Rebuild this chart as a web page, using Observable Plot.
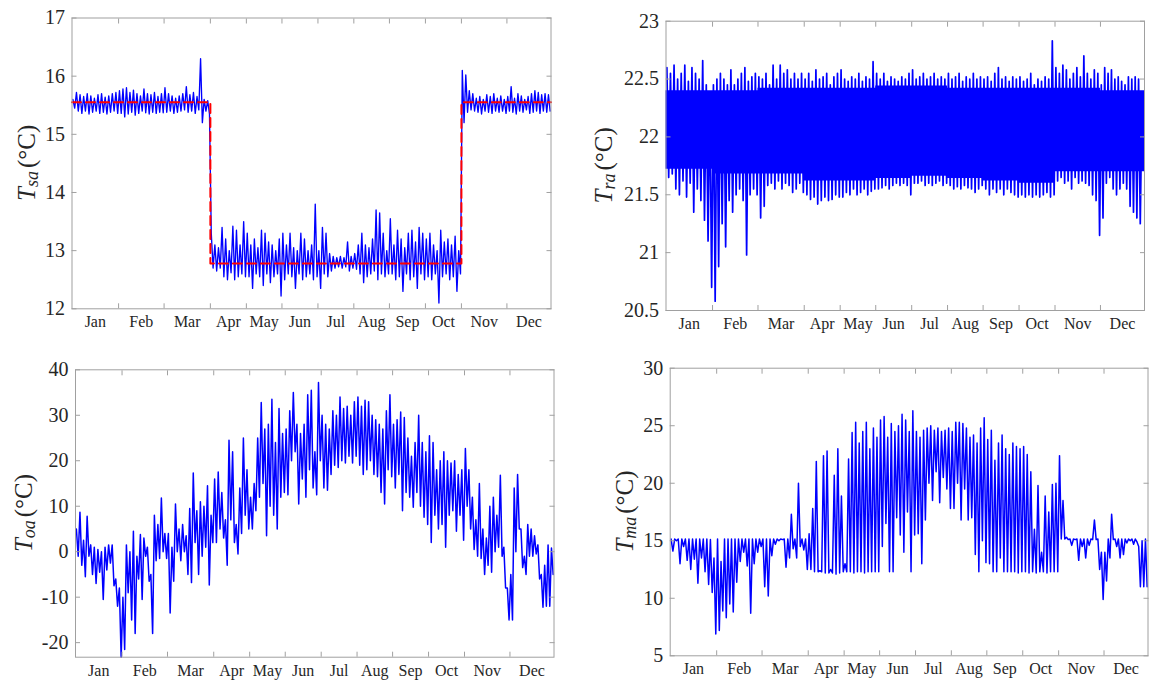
<!DOCTYPE html>
<html><head><meta charset="utf-8">
<script src="https://cdn.jsdelivr.net/npm/d3@7"></script>
<script src="https://cdn.jsdelivr.net/npm/@observablehq/plot@0.6"></script>
<style>
body{margin:0;background:#fff;}
#root{position:relative;width:1150px;height:681px;overflow:hidden;background:#fff;}
#root svg{position:absolute;}
</style></head><body><div id="root"></div>
<script>
// ---------- shared x axis (sample index; month widths) ----------
const monthNames = ["Jan","Feb","Mar","Apr","May","Jun","Jul","Aug","Sep","Oct","Nov","Dec"];
const monthSamples = [466, 455, 463, 360, 356, 360, 359, 356, 360, 360, 455, 441];
const binsPerMonth = [13, 13, 13, 10, 10, 10, 10, 10, 10, 10, 13, 13];

// ---------- T_sa : per-bin max / min ----------
const tsaHi = [
 15.6,15.72,15.68,15.65,15.7,15.66,15.62,15.68,15.7,15.64,15.66,15.7,15.72,
 15.75,15.78,15.8,15.72,15.76,15.7,15.66,15.78,15.7,15.68,15.72,15.65,15.7,
 15.8,15.7,15.66,15.62,15.66,15.7,15.82,15.68,15.72,15.65,16.3,15.6,15.58,
 13.3,13.1,13.05,13.4,13.2,13.0,13.42,13.35,13.1,13.5,
 13.3,13.1,13.2,13.05,13.35,13.3,13.15,13.1,13.0,13.2,
 13.3,13.1,13.3,13.05,13.0,13.3,13.2,13.0,13.1,13.8,
 13.0,13.4,13.3,12.95,12.9,12.88,12.9,12.88,13.15,12.9,
 12.95,13.1,13.3,13.1,13.05,13.2,13.7,13.65,13.3,13.0,
 13.55,13.1,13.35,13.2,13.05,13.3,13.35,13.15,13.4,13.3,
 13.2,13.3,13.1,13.0,13.35,13.15,13.2,13.1,13.25,13.0,
 16.1,16.02,15.75,15.7,15.62,15.65,15.6,15.68,15.65,15.7,15.62,15.66,15.6,
 15.65,15.82,15.62,15.7,15.66,15.6,15.65,15.7,15.75,15.72,15.68,15.7,15.68];
const tsaLo = [
 15.45,15.4,15.36,15.4,15.35,15.38,15.4,15.36,15.38,15.35,15.38,15.4,15.36,
 15.36,15.3,15.35,15.38,15.33,15.36,15.4,15.37,15.35,15.38,15.36,15.38,15.37,
 15.38,15.4,15.36,15.38,15.4,15.42,15.38,15.4,15.36,15.42,15.2,15.4,15.35,
 12.7,12.65,12.7,12.55,12.5,12.62,12.5,12.55,12.6,12.55,
 12.55,12.35,12.6,12.55,12.4,12.6,12.45,12.55,12.6,12.22,
 12.5,12.6,12.55,12.35,12.6,12.5,12.55,12.6,12.5,12.55,
 12.35,12.6,12.55,12.65,12.7,12.72,12.7,12.72,12.65,12.7,
 12.68,12.6,12.45,12.55,12.6,12.65,12.5,12.6,12.55,12.6,
 12.6,12.5,12.55,12.3,12.6,12.5,12.55,12.35,12.6,12.5,
 12.55,12.5,12.6,12.1,12.55,12.6,12.5,12.55,12.3,12.6,
 15.2,15.38,15.42,15.4,15.38,15.35,15.4,15.38,15.36,15.4,15.38,15.4,15.36,
 15.4,15.38,15.35,15.4,15.38,15.42,15.36,15.38,15.4,15.36,15.4,15.38,15.4];
const tsaSetpoint = [15.55,15.55,15.55,12.78,12.78,12.78,12.78,12.78,12.78,12.78,15.55,15.55];

// ---------- T_ra ----------
const traHi = [
 22.6,22.55,22.62,22.5,22.55,22.62,22.48,22.6,22.55,22.5,22.66,22.45,22.35,
 22.45,22.5,22.55,22.5,22.45,22.58,22.45,22.5,22.55,22.6,22.48,22.52,22.55,
 22.52,22.5,22.55,22.45,22.62,22.5,22.62,22.55,22.58,22.5,22.55,22.5,22.55,
 22.5,22.55,22.48,22.58,22.5,22.52,22.55,22.45,22.52,22.55,
 22.58,22.5,22.48,22.52,22.5,22.55,22.48,22.52,22.5,22.65,
 22.55,22.5,22.55,22.48,22.52,22.5,22.48,22.52,22.5,22.55,
 22.58,22.5,22.52,22.55,22.5,22.52,22.55,22.5,22.52,22.5,
 22.55,22.5,22.52,22.55,22.48,22.52,22.5,22.55,22.5,22.52,
 22.5,22.52,22.48,22.55,22.6,22.5,22.52,22.48,22.52,22.5,
 22.52,22.48,22.5,22.55,22.45,22.5,22.48,22.52,22.5,22.83,
 22.6,22.55,22.62,22.58,22.5,22.55,22.6,22.52,22.7,22.55,22.5,22.58,22.55,
 22.45,22.6,22.55,22.58,22.5,22.52,22.48,22.45,22.52,22.5,22.52,22.5,22.3];
const traLo = [
 21.65,21.68,21.55,21.5,21.62,21.48,21.6,21.35,21.55,21.45,21.28,21.1,20.7,
 20.58,20.88,21.25,21.05,21.45,21.35,21.5,21.55,21.45,20.98,21.5,21.55,21.5,
 21.3,21.4,21.58,21.6,21.55,21.62,21.55,21.6,21.58,21.52,21.55,21.6,21.52,
 21.5,21.46,21.48,21.42,21.45,21.48,21.45,21.46,21.5,21.48,
 21.48,21.52,21.5,21.55,21.5,21.52,21.55,21.5,21.53,21.55,
 21.55,21.56,21.58,21.55,21.58,21.6,21.58,21.6,21.58,21.5,
 21.6,21.6,21.62,21.58,21.6,21.58,21.6,21.62,21.58,21.6,
 21.58,21.55,21.57,21.55,21.58,21.56,21.55,21.52,21.55,21.58,
 21.55,21.5,21.55,21.52,21.55,21.5,21.55,21.52,21.5,21.48,
 21.5,21.48,21.5,21.48,21.5,21.48,21.5,21.52,21.48,21.5,
 21.62,21.65,21.6,21.62,21.55,21.65,21.6,21.62,21.6,21.58,21.5,21.45,21.15,
 21.3,21.6,21.65,21.55,21.5,21.55,21.6,21.55,21.4,21.35,21.3,21.25,21.75];
// dense (solid) part of the T_ra band, per month
const traCoreLo = [21.72,21.68,21.68,21.62,21.62,21.64,21.66,21.64,21.62,21.6,21.7,21.7];
const traCoreHi = [22.4,22.4,22.42,22.42,22.42,22.44,22.44,22.42,22.42,22.42,22.42,22.4];

// ---------- T_oa ----------
const toaHi = [
 5,8.7,2.5,7.8,1.5,1,0.5,0,1,1.5,1.5,-6,-8,
 -10,1.5,0,4.5,-1,3.8,3,1,-5,8,6,11.8,4,
 4,1,10.5,5,6,3.5,9.5,17.3,9,11,10,14.5,8,
 16,17.5,13,7,24.5,22,6,14,25,18,
 12,15,25,32.8,27,28,33.5,24,31.5,26,
 27,31,35,28,26,28,34.5,35.5,22,37.2,
 30,28,27,31,30,34,31.5,32,30,33,
 34,32,33.3,33,30,29,28,27,31,34.5,
 28,29,30.7,29.5,25,21,24,30,24,22,
 25.5,24,18,20,22,20,19.5,20,17,18,
 22.7,18,12,7,15,5,3,10,12,8,16.8,1,-8,
 -5,14,17,5,-1,6,5,3.5,1.5,-5,-3,1.5,0.8];
const toaLo = [
 -1,-3,-5.5,-1,-5,-7,-4.5,-10.5,-4,-2.5,-7.5,-12,-23.2,
 -21.5,-9,-15,-18,-6,-10.5,-1,-6.5,-18,-2,-1.5,0,-1.5,
 -13.5,-6.5,0,-2,0,-5,-6.8,2,-5,-1,1,-7.3,2,
 2,5,3,-3,7,2,-0.5,4,8,5,
 5,9,12,15,3.5,10,8,5,12,13,
 12.5,20,22,10.5,16,12,18,14,12.5,20,
 14,13.5,17,19,18.5,20,19.5,21,19.5,21,
 19,17,18,20,17,16.5,13,10.5,18,16.5,
 14,17,9,13,12,9.8,13,10,7.6,6,
 2,8,5,6,1,8,9,4.5,8,2.5,
 10,5,0.5,-1,-1.5,-5,-3,-4.5,0,1,-1,-8,-15,
 -15,0,5,-3.5,-5,-1,-1,-0.5,-6,-12.2,-12,-12,-5];

// ---------- T_ma ----------
const tmaHi = [
 15.15,15.15,15.15,15.15,15.15,15.15,15.15,15.15,15.15,15.15,15.15,15.1,13.5,
 15.15,13.2,15.15,15.15,15.15,15.15,15.15,15.15,15.15,15.15,15.15,15.15,15.15,
 15.15,15.15,15.15,15.15,15.15,15.15,15.15,15.15,17.3,15.15,20.0,15.15,15.15,
 15.6,17.8,21.9,12.4,22.4,22.8,12.5,20.7,23.0,18.9,
 13,22.1,24.4,25.3,23.5,24.5,25.3,23.0,24.8,24.0,
 25.5,25.8,24.0,25.2,24.5,25.0,26.0,25.5,24.5,26.3,
 24.5,24.0,24.6,24.8,25.0,24.6,24.8,24.5,24.6,24.8,
 24.5,25.3,25.3,25.2,24.8,24.0,24.2,23.5,24.8,25.7,
 23.8,24.6,22.0,23.5,24.2,23.0,22.5,23.5,23.2,23.0,
 23.2,22.5,21.0,16.0,19.8,14.0,18.9,17.5,19.9,20.0,
 22.4,18.5,15.3,15.15,15.15,15.15,15.15,15.15,15.15,15.15,16.8,15.15,14.0,
 14.0,15.15,17.3,15.15,15.15,15.15,15.15,15.15,15.15,15.15,14.5,15.0,15.15];
const tmaLo = [
 14.1,15.0,13.0,14.5,13.3,12.5,13.4,11.3,13.5,12.3,11.2,10.5,6.9,
 7.2,8.9,8.3,9.5,8.8,11.4,13.2,14.0,12.8,8.7,13.0,14.0,14.5,
 11.0,10.2,13.7,14.7,15.0,15.1,12.7,13.5,14.3,13.5,14.5,14.2,12.5,
 12.5,12.3,12.3,12.3,12.2,12.2,12.2,12.1,12.2,12.3,
 12.3,12.3,12.2,12.3,12.3,12.2,12.3,12.3,12.3,12.3,
 14.5,16.5,12.3,12.3,17.0,15.5,14.0,17.5,12.3,15.5,
 15.6,13.0,16.8,20.0,18.5,21.0,18.3,20.5,19.5,17.8,
 17.8,20.0,16.8,19.5,16.8,17.0,13.8,12.3,15.0,13.1,
 13.0,12.3,12.3,13.5,12.3,12.3,12.3,12.3,12.2,12.3,
 12.3,12.2,12.3,12.2,12.3,12.3,12.2,12.3,12.3,12.3,
 15.15,15.15,15.1,14.6,15.1,13.3,14.5,13.5,14.6,15.1,15.1,12.5,9.9,
 11.5,13.5,15.1,14.5,13.5,13.8,14.8,15.0,14.7,14.9,11.0,11.0,11.0];

// ---------- helpers ----------
const monthStarts = monthSamples.map((_, i) => d3.sum(monthSamples.slice(0, i)));
const total = d3.sum(monthSamples);
const innerEdges = monthStarts.slice(1);
const monthMids = monthStarts.map((s, i) => s + monthSamples[i] / 2);

function zigzag(hi, lo) {
  const pts = [];
  let i = 0;
  monthSamples.forEach((n, m) => {
    const s = monthStarts[m], nb = binsPerMonth[m];
    for (let k = 0; k < nb; k++, i++) {
      pts.push({x: s + (k + 0.25) * n / nb, y: hi[i]});
      pts.push({x: s + (k + 0.75) * n / nb, y: lo[i]});
    }
  });
  return pts;
}
function monthSteps(vals) {
  const pts = [];
  vals.forEach((v, m) => {
    pts.push({x: monthStarts[m], y: v});
    pts.push({x: monthStarts[m] + monthSamples[m], y: v});
  });
  return pts;
}

const AX = "#a0a0a0", TXT = "#262626", BLUE = "#0000ff";
const root = document.getElementById("root");

function panel(cfg) {
  const svg = Plot.plot({
    width: 575, height: cfg.height,
    marginLeft: cfg.mL, marginRight: cfg.mR, marginTop: cfg.mT, marginBottom: cfg.mB,
    style: {fontFamily: "'Liberation Serif', serif", color: TXT, background: "transparent", overflow: "visible"},
    x: {domain: [0, total]},
    y: {domain: cfg.yDomain},
    marks: [
      ...cfg.marks,
      Plot.frame({stroke: AX, strokeWidth: 1}),
      Plot.axisX({anchor: "bottom", ticks: innerEdges, tickSize: -5, tickFormat: () => "", stroke: AX, label: null}),
      Plot.axisX({anchor: "top", ticks: innerEdges, tickSize: -5, tickFormat: () => "", stroke: AX, label: null}),
      Plot.axisX({anchor: "bottom", ticks: monthMids, tickSize: 0, tickPadding: 7,
        tickFormat: d => monthNames[monthMids.indexOf(d)], fontSize: 16, fill: TXT, label: null}),
      Plot.axisY({anchor: "left", ticks: cfg.yTicks, tickSize: -5, tickPadding: 12,
        tickFormat: d => String(d), fontSize: 20, fill: TXT, stroke: AX, label: null}),
      Plot.axisY({anchor: "right", ticks: cfg.yTicks, tickSize: -5, tickFormat: () => "", stroke: AX, label: null})
    ]
  });
  svg.style.left = cfg.left + "px";
  svg.style.top = cfg.top + "px";
  const cy = cfg.mT + (cfg.height - cfg.mT - cfg.mB) / 2;
  const t = d3.select(svg).append("text")
    .attr("transform", `translate(${cfg.labelX},${cy}) rotate(-90)`)
    .attr("text-anchor", "middle").attr("dominant-baseline", "central")
    .attr("font-family", "'Liberation Serif', serif").attr("font-size", 25).attr("fill", TXT);
  t.append("tspan").attr("font-style", "italic").text("T");
  t.append("tspan").attr("font-style", "italic").attr("font-size", 18).attr("dy", 6).text(cfg.sub);
  t.append("tspan").attr("dy", -6).attr("dx", 3).text("(°C)");
  root.appendChild(svg);
}

panel({left: 0, top: 0, height: 340, mL: 71.5, mR: 24.5, mT: 17.5, mB: 31.7,
  yDomain: [12, 17], yTicks: [12, 13, 14, 15, 16, 17], sub: "sa", labelX: 26,
  marks: [
    Plot.line(zigzag(tsaHi, tsaLo), {x: "x", y: "y", stroke: BLUE, strokeWidth: 1.35}),
    Plot.line(monthSteps(tsaSetpoint), {x: "x", y: "y", stroke: "#ff0000", strokeWidth: 2, strokeDasharray: "9,5"})
  ]});

panel({left: 575, top: 0, height: 340, mL: 90.5, mR: 6, mT: 20.7, mB: 30,
  yDomain: [20.5, 23], yTicks: [20.5, 21, 21.5, 22, 22.5, 23], sub: "ra", labelX: 28,
  marks: [
    Plot.areaY(traCoreLo.flatMap((v, m) => [
      {x: monthStarts[m], y1: v, y2: traCoreHi[m]},
      {x: monthStarts[m] + monthSamples[m], y1: v, y2: traCoreHi[m]}]),
      {x: "x", y1: "y1", y2: "y2", fill: BLUE}),
    Plot.line(zigzag(traHi, traLo), {x: "x", y: "y", stroke: BLUE, strokeWidth: 1.7})
  ]});

panel({left: 0, top: 340, height: 341, mL: 75, mR: 21.5, mT: 29.3, mB: 24.3,
  yDomain: [-23.2, 40], yTicks: [-20, -10, 0, 10, 20, 30, 40], sub: "oa", labelX: 23,
  marks: [
    Plot.line(zigzag(toaHi, toaLo), {x: "x", y: "y", stroke: BLUE, strokeWidth: 1.5})
  ]});

panel({left: 575, top: 340, height: 341, mL: 94.7, mR: 2.5, mT: 27.7, mB: 25.7,
  yDomain: [5, 30], yTicks: [5, 10, 15, 20, 25, 30], sub: "ma", labelX: 48.6,
  marks: [
    Plot.line(zigzag(tmaHi, tmaLo), {x: "x", y: "y", stroke: BLUE, strokeWidth: 1.5})
  ]});
</script></body></html>
